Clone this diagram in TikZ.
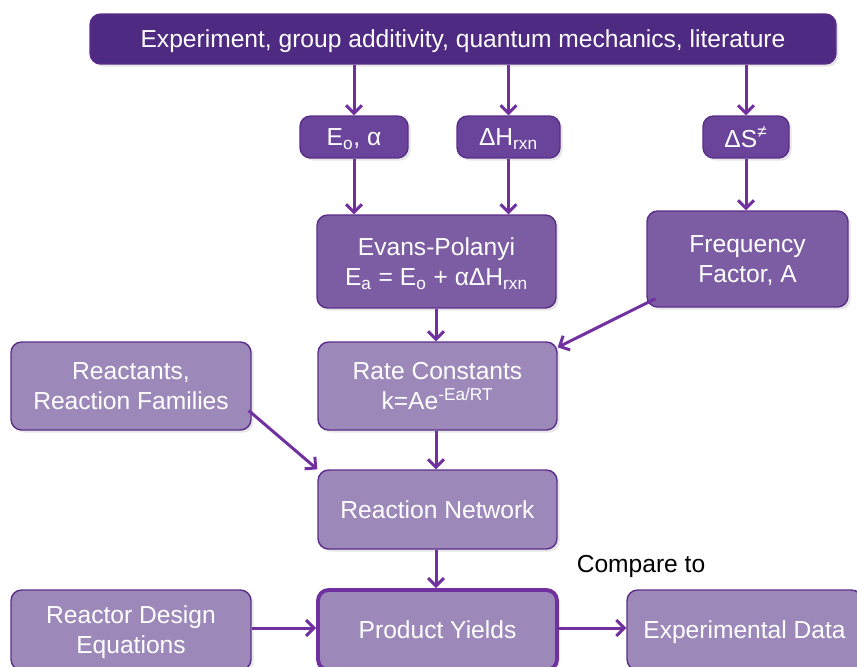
\documentclass[tikz,border=0pt]{standalone}
\usepackage{fontspec}
\setmainfont{Liberation Sans}
\usepackage{tikz}
\usetikzlibrary{arrows.meta,calc,shadows}

\definecolor{topfill}{HTML}{4F2A82}
\definecolor{midfill}{HTML}{6A449B}
\definecolor{evfill}{HTML}{7C5DA3}
\definecolor{lowfill}{HTML}{9C89BA}
\definecolor{edgecol}{HTML}{5B2D8A}
\definecolor{arrowcol}{HTML}{7030A0}

\tikzset{
	box/.style={draw=edgecol, line width=0.8pt, rounded corners=6pt, text=white, align=center,
		inner sep=0pt, text depth=0pt, font=\fontsize{14}{17}\selectfont,
		drop shadow={shadow xshift=1.5pt, shadow yshift=-1.5pt, opacity=0.2}},
	flow/.style={->, >={Straight Barb[length=4.5pt,width=9pt]}, line width=1.7pt, color=arrowcol},
}

\begin{document}
\begin{tikzpicture}[x=0.02cm, y=-0.02cm]
			% 描画範囲
			\useasboundingbox (0,0) rectangle (857,666);
			\clip (0,0) rectangle (857,666);
			% 箱の描画
			\node[box, fill=topfill, minimum width=14.92cm, minimum height=1.0cm] (source) at (463,39)
				{Experiment, group additivity, quantum mechanics, literature};
			\node[box, fill=midfill, minimum width=2.16cm, minimum height=0.84cm] (eo) at (354,137)
				{E\textsubscript{o}, α};
			\node[box, fill=midfill, minimum width=2.06cm, minimum height=0.84cm] (dh) at (508.5,137)
				{ΔH\textsubscript{rxn}};
			\node[box, fill=midfill, minimum width=1.72cm, minimum height=0.84cm] (ds) at (746,137)
				{ΔS\textsuperscript{≠}};
			\node[box, fill=evfill, minimum width=4.78cm, minimum height=1.86cm] (evans) at (436.5,261.5)
				{Evans-Polanyi\\E\textsubscript{a} = E\textsubscript{o} + αΔH\textsubscript{rxn}};
			\node[box, fill=evfill, minimum width=4.02cm, minimum height=1.92cm] (freq) at (747.5,259)
				{Frequency\\Factor, A};
			\node[box, fill=lowfill, minimum width=4.78cm, minimum height=1.76cm] (rate) at (437.5,386)
				{Rate Constants\\k=Ae\textsuperscript{-Ea/RT}};
			\node[box, fill=lowfill, minimum width=4.8cm, minimum height=1.76cm] (react) at (131,386)
				{Reactants,\\Reaction Families};
			\node[box, fill=lowfill, minimum width=4.78cm, minimum height=1.58cm] (net) at (437.5,509.5)
				{Reaction Network};
			\node[box, fill=lowfill, minimum width=4.8cm, minimum height=1.6cm] (reactor) at (131,630)
				{Reactor Design\\Equations};
			\node[box, fill=lowfill, draw=arrowcol, line width=2.2pt, minimum width=4.78cm, minimum height=1.6cm] (prod) at (437.5,630)
				{Product Yields};
			\node[box, fill=lowfill, minimum width=4.7cm, minimum height=1.6cm] (exp) at (744.5,630)
				{Experimental Data};
			\node[font=\fontsize{14}{17}\selectfont] (compare) at (641,566) {Compare to};
			% 矢印の描画
			\draw[flow] (source.south -| eo.north) -- (eo.north);
			\draw[flow] (source.south -| dh.north) -- (dh.north);
			\draw[flow] (source.south -| ds.north) -- (ds.north);
			\draw[flow] (eo.south) -- (eo.south |- evans.north);
			\draw[flow] (dh.south) -- (dh.south |- evans.north);
			\draw[flow] (ds.south) -- (ds.south |- freq.north);
			\draw[flow] (evans.south -| 436,0) -- (rate.north -| 436,0);
			\draw[flow] ($(freq.south west)+(9,-9)$) -- ($(rate.north east)+(0,6)$);
			\draw[flow] ($(react.east)!0.55!(react.south east)+(-3,0)$) -- (net.north west);
			\draw[flow] (rate.south -| 436,0) -- (net.north -| 436,0);
			\draw[flow] (net.south -| 436,0) -- (prod.north -| 436,0);
			\draw[flow] (reactor.east |- 0,628) -- (prod.west |- 0,628);
			\draw[flow] (prod.east |- 0,628) -- (exp.west |- 0,628);
		\end{tikzpicture}
\end{document}
